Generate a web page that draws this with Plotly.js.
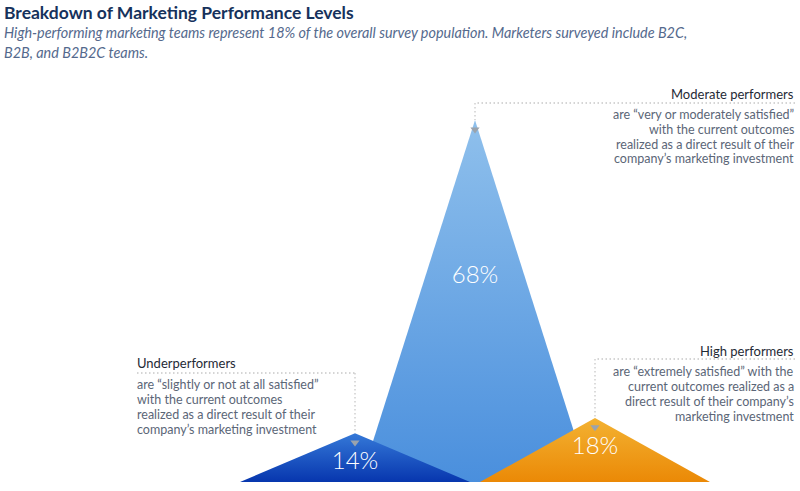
<!DOCTYPE html>
<html>
<head>
<meta charset="utf-8">
<script src="https://cdn.plot.ly/plotly-3.0.1.min.js"></script>
<style>html,body{margin:0;padding:0;background:#fff}#chart{width:800px;height:491px}</style>
</head>
<body>
<div id="chart"></div>
<script>
// ---- data ----
const categories = ['Underperformers', 'Moderate performers', 'High performers'];
const shares = [14, 68, 18];                 // percent of survey population
const peakHeights = [13.5, 100, 17.7];       // drawn height of each peak (middle peak = 100)
const shareLabels = ['14%', '68%', '18%'];
const descriptions = [
  ['are \u201cslightly or not at all satisfied\u201d', 'with the current outcomes', 'realized as a direct result of their', 'company\u2019s marketing investment'],
  ['are \u201cvery or moderately satisfied\u201d', 'with the current outcomes', 'realized as a direct result of their', 'company\u2019s marketing investment'],
  ['are \u201cextremely satisfied\u201d with the', 'current outcomes realized as a', 'direct result of their company\u2019s', 'marketing investment']
];
const titleText = 'Breakdown of Marketing Performance Levels';
const subtitleLines = ['High-performing marketing teams represent 18% of the overall survey population. Marketers surveyed include B2C,', 'B2B, and B2B2C teams.'];

// ---- styles ----
const gradients = [
  [[0, '#0736ae'], [1, '#3579d8']],
  [[0, '#4a8fdd'], [1, '#8fc0ec']],
  [[0, '#eb8906'], [1, '#f3b232']]
];
const solid = ['#1a52c4', '#6aa6e4', '#ef9c1a'];
const HW = 0.958;        // half width of each peak, in category units
const W = 800, H = 491;
const xp = px => px / W;
const yp = py => 1 - py / H;
const FONT = 'Lato, "Open Sans", sans-serif';

const order = [1, 0, 2];
const traces = order.map(i => ({
  type: 'scatter', mode: 'lines',
  x: [i - HW, i, i + HW, i - HW],
  y: [0, peakHeights[i], 0, 0],
  fill: 'toself',
  fillcolor: solid[i],
  fillgradient: {type: 'vertical', colorscale: gradients[i], start: 0, stop: peakHeights[i]},
  line: {width: 0, color: 'rgba(0,0,0,0)'},
  hoverinfo: 'text', text: categories[i] + ': ' + shares[i] + '%',
  showlegend: false
}));

// small arrow markers under each apex
traces.push({
  type: 'scatter', mode: 'markers',
  x: [0, 1, 2],
  y: peakHeights.map(h => h - 2.6),
  marker: {symbol: 'triangle-down', size: 8, color: '#9aa3ad'},
  hoverinfo: 'skip', showlegend: false
});

// percentage labels inside the peaks
traces.push({
  type: 'scatter', mode: 'text',
  x: [0, 1, 2],
  y: [5.3, 56.5, 9.4],
  text: shareLabels,
  textposition: 'middle center',
  textfont: {family: FONT, size: 24, color: '#ffffff', weight: 300},
  hoverinfo: 'skip', showlegend: false
});

const ann = [];
const shapes = [];
const dotLine = {color: '#c8c8c8', width: 1.3, dash: '1.5px,2.5px'};
function addText(txt, px, py, anchor, opts) {
  ann.push(Object.assign({
    text: txt, xref: 'paper', yref: 'paper', x: xp(px), y: yp(py),
    xanchor: anchor, yanchor: 'middle', showarrow: false, borderpad: 0,
    font: {family: FONT, size: 12.5, color: '#5b6677'}
  }, opts || {}));
}

// title + subtitle
addText(titleText, 3, 13, 'left', {font: {family: FONT, size: 17.5, color: '#16325c', weight: 700}});
addText('<i>' + subtitleLines[0] + '</i>', 3, 32, 'left', {font: {family: FONT, size: 14.4, color: '#54698d'}});
addText('<i>' + subtitleLines[1] + '</i>', 3, 52, 'left', {font: {family: FONT, size: 14.4, color: '#54698d'}});

// callout placement
const callouts = [
  {hy: 363, ly: 373, tx: 136, anchor: 'left', by: 384, lineEnd: 137},
  {hy: 94, ly: 103, tx: 795, anchor: 'right', by: 114, lineEnd: 795},
  {hy: 351, ly: 359, tx: 795, anchor: 'right', by: 371, lineEnd: 795}
];
const headFont = {family: FONT, size: 13, color: '#1f2a36', weight: 400};
callouts.forEach((c, i) => {
  addText(categories[i], c.tx, c.hy, c.anchor, {font: headFont});
  descriptions[i].forEach((ln, k) => addText(ln, c.tx, c.by + k * 15, c.anchor));
  const yLine = (482 - c.ly) / 3.62;
  // horizontal dotted leader
  shapes.push({type: 'line', xref: 'x', yref: 'y', x0: (c.lineEnd - 475) / 120 + 1, x1: i, y0: yLine, y1: yLine, line: dotLine});
  // vertical dotted leader down to the apex
  shapes.push({type: 'line', xref: 'x', yref: 'y', x0: i, x1: i, y0: yLine, y1: peakHeights[i], line: dotLine});
});

const layout = {
  width: W, height: H,
  margin: {l: 0, r: 0, t: 0, b: 0},
  paper_bgcolor: '#ffffff', plot_bgcolor: '#ffffff',
  xaxis: {range: [(0 - 475) / 120 + 1, (800 - 475) / 120 + 1], visible: false, fixedrange: true},
  yaxis: {range: [(482 - 491) / 3.62, 482 / 3.62], visible: false, fixedrange: true},
  annotations: ann,
  shapes: shapes,
  showlegend: false
};
Plotly.newPlot('chart', traces, layout, {displayModeBar: false, staticPlot: true});
</script>
</body>
</html>
